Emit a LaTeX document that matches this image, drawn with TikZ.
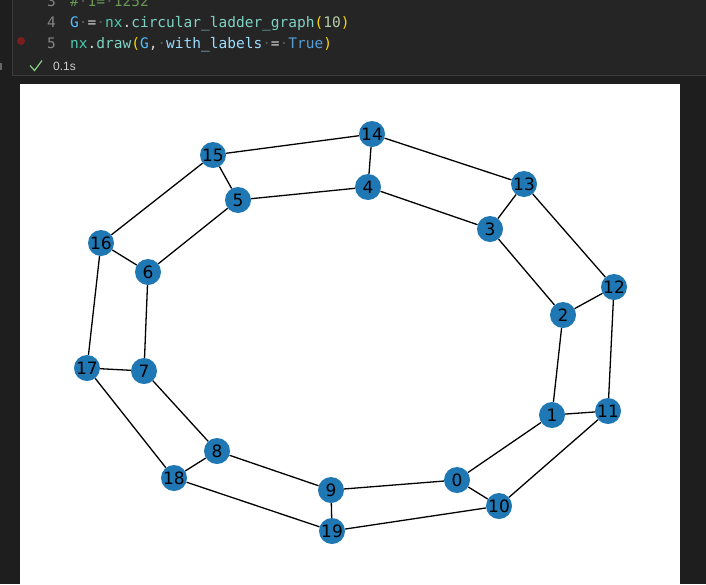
\documentclass[tikz,border=0pt]{standalone}
\usepackage{fontspec}
\setmainfont{DejaVu Sans}
\newfontfamily\codefont{DejaVu Sans Mono}
\newfontfamily\uifont{Liberation Sans}
\usepackage{tikz}

\definecolor{bgdark}{HTML}{1E1E1E}
\definecolor{cellbg}{HTML}{252526}
\definecolor{cellline}{HTML}{3C3C3C}
\definecolor{lnum}{HTML}{858585}
\definecolor{wsgray}{HTML}{5A5A5A}
\definecolor{cvar}{HTML}{4FC1FF}
\definecolor{cparam}{HTML}{9CDCFE}
\definecolor{cmod}{HTML}{4EC9B0}
\definecolor{cfun}{HTML}{7FD3C3}
\definecolor{cplain}{HTML}{D4D4D4}
\definecolor{cnum}{HTML}{B5CEA8}
\definecolor{ckey}{HTML}{569CD6}
\definecolor{cbrack}{HTML}{FFD700}
\definecolor{ccomm}{HTML}{6A9955}
\definecolor{bpred}{HTML}{7A1E1E}
\definecolor{okgreen}{HTML}{89D185}
\definecolor{nodeblue}{HTML}{1F77B4}

\newcommand{\ws}{\textcolor{wsgray}{·}}

\pgfdeclarelayer{edgelayer}
\pgfdeclarelayer{nodelayer}
\pgfsetlayers{main,edgelayer,nodelayer}

\begin{document}
\begin{tikzpicture}[x=1pt,y=-1pt,
    vtx/.style={circle,fill=nodeblue,inner sep=0pt,minimum size=26pt,
        font=\fontsize{17}{17}\selectfont,text=black},
    edge/.style={draw=black,line width=1.3pt},
    codeline/.style={anchor=base west,inner sep=0pt,
        font=\codefont\fontsize{14.5}{14.5}\selectfont},
    linenum/.style={anchor=base east,inner sep=0pt,text=lnum,
        font=\codefont\fontsize{14.5}{14.5}\selectfont}]
    \clip (0,0) rectangle (706,584);
    \fill[bgdark] (0,0) rectangle (706,584);

    % notebook cell
    \fill[cellbg] (12,0) rectangle (706,75);
    \draw[cellline,line width=1pt] (12,0) -- (12,75) -- (706,75);
    \fill[lnum!70!bgdark] (0,63) rectangle (2,70);

    \node[linenum] (ln3) at (56,6) {3};
    \node[linenum] (ln4) at (56,27) {4};
    \node[linenum] (ln5) at (56,48) {5};
    \fill[bpred] (21,41) circle (4);

    \node[codeline,text=ccomm] (code3) at (70,6) {\#\ws1=\ws1252};
    \node[codeline] (code4) at (70,27) {\textcolor{cvar}{G}\ws\textcolor{cplain}{=}\ws\textcolor{cmod}{nx}\textcolor{cplain}{.}\textcolor{cfun}{circular\_ladder\_graph}\textcolor{cbrack}{(}\textcolor{cnum}{10}\textcolor{cbrack}{)}};
    \node[codeline] (code5) at (70,48) {\textcolor{cmod}{nx}\textcolor{cplain}{.}\textcolor{cfun}{draw}\textcolor{cbrack}{(}\textcolor{cvar}{G}\textcolor{cplain}{,}\ws\textcolor{cparam}{with\_labels}\ws\textcolor{cplain}{=}\ws\textcolor{ckey}{True}\textcolor{cbrack}{)}};

    % run status
    \draw[okgreen,line width=1.2pt] (30,65.5) -- (34.5,70.5) -- (42,60.5);
    \node[anchor=base west,inner sep=0pt,text=cplain!90!lnum,font=\uifont\fontsize{12}{12}\selectfont] (time) at (53,70.5) {0.1s};

    % plot area
    \fill[white] (20,84) rectangle (680,584);

    \begin{pgfonlayer}{nodelayer}
    \foreach \n/\x/\y in {0/457/480, 1/552/415, 2/563/315, 3/490/229, 4/368/187,
                          5/238/200, 6/148/272, 7/144/371, 8/217/451, 9/331/490,
                          10/499/506, 11/608/411, 12/614/287, 13/524/184, 14/372/134,
                          15/213/155, 16/101/243, 17/87/368, 18/174/478, 19/332/531}
        \node[vtx] (n\n) at (\x,\y) {\n};
    \end{pgfonlayer}

    \begin{pgfonlayer}{edgelayer}
    \foreach \i [evaluate=\i as \j using {int(mod(\i+1,10))}] in {0,...,9} {
        \draw[edge] (n\i) -- (n\j);
        \draw[edge] (n1\i) -- (n1\j);
        \draw[edge] (n\i) -- (n1\i);
    }
    \end{pgfonlayer}
\end{tikzpicture}
\end{document}
